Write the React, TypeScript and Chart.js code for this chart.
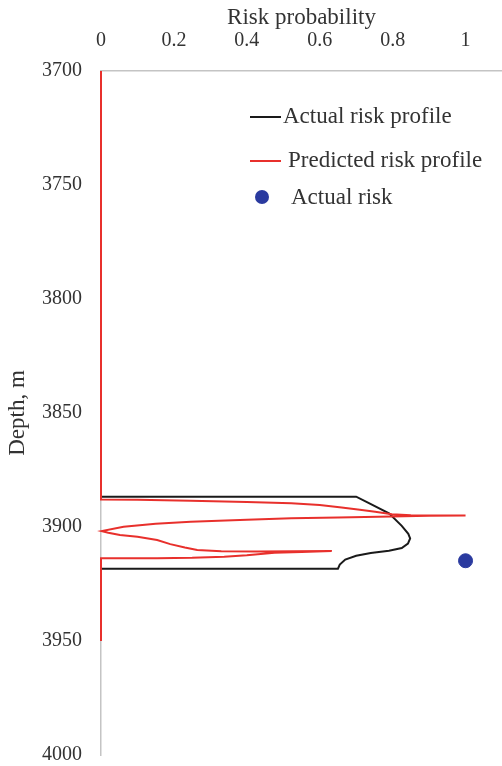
import { useEffect, useRef } from "react";
import { Chart, registerables } from "chart.js";

Chart.register(...registerables);

// Probability axis (top) and depth axis (left, increasing downwards)
const probabilityRange = [0, 1.1];
const probabilityStep = 0.2;
const depthRange = [3700, 4000];
const depthStep = 50;

// Actual risk profile: risk probability vs depth (m)
const actualProfileRisk = [
  0, 0.7, 0.735, 0.79, 0.825, 0.843, 0.848, 0.842, 0.825, 0.79, 0.74, 0.7, 0.67, 0.655, 0.65, 0,
];
const actualProfileDepth = [
  3886.7, 3886.7, 3889.5, 3894.0, 3899.5, 3903.0, 3905.0, 3907.3, 3909.2, 3910.4, 3911.4,
  3912.6, 3914.3, 3916.5, 3918.3, 3918.3,
];

// Predicted risk profile: risk probability vs depth (m)
const predictedProfileRisk = [
  0, 0, 0.1, 0.246, 0.4, 0.522, 0.6, 0.66, 0.71, 0.752, 0.798, 0.85, 1.0, 0.9, 0.798, 0.65,
  0.522, 0.4, 0.246, 0.15, 0.062, 0.002, 0.02, 0.052, 0.1, 0.154, 0.19, 0.23, 0.264, 0.33,
  0.43, 0.53, 0.633, 0.55, 0.476, 0.4, 0.338, 0.25, 0.154, 0, 0,
];
const predictedProfileDepth = [
  3700, 3887.9, 3888.0, 3888.5, 3889.0, 3889.6, 3890.3, 3891.4, 3892.4, 3893.3, 3894.4,
  3894.8, 3895.0, 3895.1, 3895.4, 3895.8, 3896.2, 3896.8, 3897.7, 3898.6, 3899.9, 3901.8,
  3902.5, 3903.5, 3904.3, 3905.7, 3907.5, 3909.0, 3910.1, 3910.6, 3910.8, 3910.6, 3910.5,
  3911.0, 3911.3, 3912.4, 3913.0, 3913.5, 3913.7, 3913.7, 3950,
];

// Actual risk event
const actualRiskValue = [1.0];
const actualRiskDepth = [3914.8];

const legendLabels = ["Actual risk profile", "Predicted risk profile", "Actual risk"];

const FONT = '"Liberation Serif", "Times New Roman", serif';
const TEXT = "#333333";
const BLACK = "#1a1a1a";
const RED = "#e8302c";
const BLUE = "#2a3a9f";
const AXIS = "#c4c4c4";

const toPoints = (xs: number[], ys: number[]) => xs.map((x, i) => ({ x, y: ys[i] }));
const plainNumber = (v: number | string) => String(Number(Number(v).toFixed(1)));

// Legend drawn inside the plot area, upper right
const insideLegend = {
  id: "insideLegend",
  afterDraw(chart: any) {
    const { ctx, chartArea } = chart;
    const x0 = chartArea.left + 149;
    const y0 = chartArea.top + 46;
    ctx.save();
    ctx.font = `23px ${FONT}`;
    ctx.textBaseline = "middle";
    ctx.textAlign = "left";
    ctx.fillStyle = TEXT;

    ctx.lineWidth = 2;
    ctx.strokeStyle = BLACK;
    ctx.beginPath();
    ctx.moveTo(x0, y0);
    ctx.lineTo(x0 + 31, y0);
    ctx.stroke();
    ctx.fillText(legendLabels[0], x0 + 33, y0);

    ctx.strokeStyle = RED;
    ctx.beginPath();
    ctx.moveTo(x0, y0 + 44);
    ctx.lineTo(x0 + 31, y0 + 44);
    ctx.stroke();
    ctx.fillText(legendLabels[1], x0 + 38, y0 + 44);

    ctx.fillStyle = BLUE;
    ctx.beginPath();
    ctx.arc(x0 + 12, y0 + 80, 7, 0, Math.PI * 2);
    ctx.fill();
    ctx.fillStyle = TEXT;
    ctx.fillText(legendLabels[2], x0 + 41, y0 + 81);
    ctx.restore();
  },
};

export default function App() {
  const canvasRef = useRef<HTMLCanvasElement | null>(null);

  useEffect(() => {
    document.body.style.margin = "0";
    const canvas = canvasRef.current;
    if (!canvas) return;
    const chart = new Chart(canvas, {
      type: "scatter",
      data: {
        datasets: [
          {
            label: legendLabels[2],
            data: toPoints(actualRiskValue, actualRiskDepth),
            backgroundColor: BLUE,
            borderColor: BLUE,
            pointRadius: 7,
            showLine: false,
          },
          {
            label: legendLabels[1],
            data: toPoints(predictedProfileRisk, predictedProfileDepth),
            borderColor: RED,
            borderWidth: 2,
            pointRadius: 0,
            showLine: true,
            clip: false,
          },
          {
            label: legendLabels[0],
            data: toPoints(actualProfileRisk, actualProfileDepth),
            borderColor: BLACK,
            borderWidth: 2,
            pointRadius: 0,
            showLine: true,
            clip: false,
          },
        ],
      },
      options: {
        responsive: false,
        animation: false,
        layout: { autoPadding: false, padding: { top: 0, right: 0, bottom: 11, left: 0 } },
        plugins: {
          legend: { display: false },
          tooltip: { enabled: false },
        },
        scales: {
          x: {
            type: "linear",
            position: "top",
            min: probabilityRange[0],
            max: probabilityRange[1],
            afterFit: (scale: any) => {
              scale.height = 71;
              scale.paddingLeft = 0;
              scale.paddingRight = 0;
            },
            grid: { display: false, drawTicks: false },
            border: { display: true, color: AXIS, width: 1.5 },
            ticks: {
              stepSize: probabilityStep,
              includeBounds: false,
              padding: 18,
              color: TEXT,
              font: { family: FONT, size: 20 },
              callback: (v: number | string) => plainNumber(v),
            },
            title: {
              display: true,
              text: "Risk probability",
              color: TEXT,
              font: { family: FONT, size: 23 },
              padding: { top: 4, bottom: 0 },
            },
          },
          y: {
            type: "linear",
            reverse: true,
            min: depthRange[0],
            max: depthRange[1],
            afterFit: (scale: any) => {
              scale.width = 101;
              scale.paddingTop = 0;
              scale.paddingBottom = 0;
            },
            grid: { display: false, drawTicks: false },
            border: { display: true, color: AXIS, width: 1.5 },
            ticks: {
              stepSize: depthStep,
              padding: 19,
              color: TEXT,
              font: { family: FONT, size: 20 },
              callback: (v: number | string) => String(v),
            },
            title: {
              display: true,
              text: "Depth, m",
              color: TEXT,
              font: { family: FONT, size: 23 },
              padding: { top: 4, bottom: 0 },
            },
          },
        },
      },
      plugins: [insideLegend],
    });
    return () => chart.destroy();
  }, []);

  return (
    <div style={{ width: 502, height: 766, background: "#ffffff" }}>
      <canvas ref={canvasRef} width={502} height={766} style={{ display: "block" }} />
    </div>
  );
}
